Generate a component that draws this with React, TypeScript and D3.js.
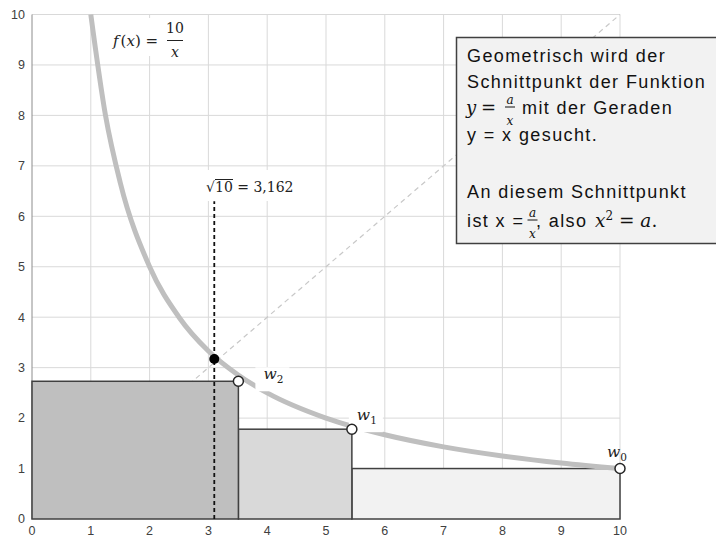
import React, { useEffect, useRef } from 'react';
import * as d3 from 'd3';

// axis ticks
const xTicks = [0, 1, 2, 3, 4, 5, 6, 7, 8, 9, 10];
const yTicks = [0, 1, 2, 3, 4, 5, 6, 7, 8, 9, 10];

// f(x) = 10/x
const curveX = [1, 1.25, 1.5, 2, 2.5, 3, 3.5, 4, 5, 6, 7, 8, 9, 10];
const curveY = [10, 8, 6.67, 5, 4, 3.33, 2.86, 2.5, 2, 1.67, 1.43, 1.25, 1.11, 1];

// iteration points w0, w1, w2
const wX = [10, 5.44, 3.51];
const wY = [1, 1.78, 2.73];
const wNames = ['0', '1', '2'];
const rectFills = ['#f2f2f2', '#d9d9d9', '#bfbfbf'];

// intersection point sqrt(10)
const rootX = 3.1;
const rootY = 3.17;
const rootLineTop = 6.3;

const FONT_SANS = '"Liberation Sans", Arial, sans-serif';
const FONT_MATH = '"DejaVu Serif", "Liberation Serif", serif';

function App() {
  const svgRef = useRef<SVGSVGElement>(null);
  const width = 716;
  const height = 537;

  useEffect(() => {
    if (!svgRef.current) return;
    const svg = d3.select(svgRef.current);
    svg.selectAll('*').remove();

    const x = d3.scaleLinear().domain([0, 10]).range([32, 620]);
    const y = d3.scaleLinear().domain([0, 10]).range([519, 14.5]);

    svg.append('rect').attr('width', width).attr('height', height).attr('fill', '#fff');

    // gridlines
    const grid = svg.append('g').attr('stroke', '#d9d9d9').attr('stroke-width', 1);
    grid.selectAll('.vg').data(xTicks.slice(1)).enter().append('line')
      .attr('x1', d => x(d)).attr('x2', d => x(d))
      .attr('y1', y(0)).attr('y2', y(10));
    grid.selectAll('.hg').data(yTicks.slice(1)).enter().append('line')
      .attr('x1', x(0)).attr('x2', x(10))
      .attr('y1', d => y(d)).attr('y2', d => y(d));

    // left axis line
    svg.append('line')
      .attr('x1', x(0)).attr('x2', x(0)).attr('y1', y(0)).attr('y2', y(10))
      .attr('stroke', '#8c8c8c').attr('stroke-width', 1);

    // tick labels
    svg.selectAll('.xl').data(xTicks).enter().append('text')
      .attr('x', d => x(d)).attr('y', 534.5)
      .attr('text-anchor', 'middle')
      .style('font-family', FONT_SANS).style('font-size', '12.5px').style('fill', '#404040')
      .text(d => d);
    svg.selectAll('.yl').data(yTicks).enter().append('text')
      .attr('x', 25).attr('y', d => y(d)).attr('dy', '0.35em')
      .attr('text-anchor', 'end')
      .style('font-family', FONT_SANS).style('font-size', '12.5px').style('fill', '#404040')
      .text(d => d);

    // y = x diagonal
    svg.append('line')
      .attr('x1', x(0)).attr('y1', y(0)).attr('x2', x(10)).attr('y2', y(10))
      .attr('stroke', '#c8c8c8').attr('stroke-width', 1.2).attr('stroke-dasharray', '5,4');

    // rectangles from the iteration points
    const rects = wX.map((wx, i) => ({
      x0: i < wX.length - 1 ? wX[i + 1] : 0,
      x1: wx,
      h: wY[i],
      fill: rectFills[i],
    }));
    svg.selectAll('.wr').data(rects).enter().append('rect')
      .attr('x', d => x(d.x0)).attr('y', d => y(d.h))
      .attr('width', d => x(d.x1) - x(d.x0)).attr('height', d => y(0) - y(d.h))
      .attr('fill', d => d.fill)
      .attr('stroke', '#404040').attr('stroke-width', 1.5);

    // curve
    const line = d3.line<number>()
      .x((d, i) => x(curveX[i]))
      .y(d => y(d))
      .curve(d3.curveMonotoneX);
    svg.append('path')
      .attr('d', line(curveY) || '')
      .attr('fill', 'none').attr('stroke', '#bfbfbf').attr('stroke-width', 5);

    // vertical dashed line at sqrt(10)
    svg.append('line')
      .attr('x1', x(rootX)).attr('x2', x(rootX)).attr('y1', y(0)).attr('y2', y(rootLineTop))
      .attr('stroke', '#111').attr('stroke-width', 1.8).attr('stroke-dasharray', '4,3');
    svg.append('circle')
      .attr('cx', x(rootX)).attr('cy', y(rootY)).attr('r', 5).attr('fill', '#000');

    // w labels (offset from their marker)
    const labelOffsets = [[-13, -12], [5, -9], [25, -2]];
    const labelBoxes = [false, true, true];
    const wLab = svg.selectAll('.wl').data(wX).enter().append('g')
      .attr('transform', (d, i) => `translate(${x(d) + labelOffsets[i][0]},${y(wY[i]) + labelOffsets[i][1]})`);
    wLab.filter((d, i) => labelBoxes[i]).append('rect')
      .attr('x', -8).attr('y', -12).attr('width', 34).attr('height', 24).attr('fill', '#fff');
    const wt = wLab.append('text')
      .style('font-family', FONT_MATH).style('font-size', '15.5px').style('fill', '#222');
    wt.append('tspan').style('font-style', 'italic').text('w');
    wt.append('tspan').attr('dy', 4).style('font-size', '10.5px').text((d, i) => wNames[i]);

    // markers (drawn over the label boxes)
    svg.selectAll('.wc').data(wX).enter().append('circle')
      .attr('cx', d => x(d)).attr('cy', (d, i) => y(wY[i])).attr('r', 5)
      .attr('fill', '#fff').attr('stroke', '#262626').attr('stroke-width', 1.5);

    // f(x) label
    const fl = svg.append('g').attr('transform', 'translate(113,46)');
    fl.append('rect').attr('x', -6).attr('y', -28).attr('width', 84).attr('height', 38).attr('fill', '#fff');
    const ft = fl.append('text').style('font-family', FONT_MATH).style('font-size', '15px').style('fill', '#222');
    ft.append('tspan').style('font-style', 'italic').text('f');
    ft.append('tspan').attr('dx', 2).text('(');
    ft.append('tspan').style('font-style', 'italic').text('x');
    ft.append('tspan').text(') =');
    fl.append('text').attr('x', 62).attr('y', -13).attr('text-anchor', 'middle')
      .style('font-family', FONT_MATH).style('font-size', '14px').style('fill', '#222').text('10');
    fl.append('line').attr('x1', 54).attr('x2', 70).attr('y1', -5.5).attr('y2', -5.5)
      .attr('stroke', '#222').attr('stroke-width', 1);
    fl.append('text').attr('x', 62).attr('y', 11).attr('text-anchor', 'middle')
      .style('font-family', FONT_MATH).style('font-size', '14px').style('font-style', 'italic')
      .style('fill', '#222').text('x');

    // sqrt label
    const sl = svg.append('g').attr('transform', 'translate(206,192)');
    sl.append('rect').attr('x', -6).attr('y', -22).attr('width', 98).attr('height', 31).attr('fill', '#fff');
    sl.append('text').style('font-family', FONT_MATH).style('font-size', '14px').style('fill', '#222')
      .text('\u221A');
    sl.append('line').attr('x1', 9).attr('x2', 27).attr('y1', -12.5).attr('y2', -12.5)
      .attr('stroke', '#222').attr('stroke-width', 1);
    sl.append('text').attr('x', 9).style('font-family', FONT_MATH).style('font-size', '14px').style('fill', '#222')
      .text('10 = 3,162');

    // text box
    const tb = svg.append('g');
    tb.append('rect').attr('x', 456.5).attr('y', 37.5).attr('width', 262).attr('height', 206)
      .attr('fill', '#f2f2f2').attr('stroke', '#404040').attr('stroke-width', 1.5);
    const sans = (t: string, tx: number, ty: number) =>
      tb.append('text').attr('x', tx).attr('y', ty)
        .style('font-family', FONT_SANS).style('font-size', '18px').style('letter-spacing', '1.4px')
        .style('fill', '#111').text(t);
    const math = (t: string, tx: number, ty: number, size = 17, anchor = 'start', italic = true) =>
      tb.append('text').attr('x', tx).attr('y', ty).attr('text-anchor', anchor)
        .style('font-family', FONT_MATH).style('font-size', `${size}px`)
        .style('font-style', italic ? 'italic' : 'normal')
        .style('fill', '#111').text(t);
    const frac = (cx: number, ty: number) => {
      math('a', cx, ty - 10.5, 12, 'middle');
      tb.append('line').attr('x1', cx - 5).attr('x2', cx + 5).attr('y1', ty - 7).attr('y2', ty - 7)
        .attr('stroke', '#111').attr('stroke-width', 1);
      math('x', cx, ty + 10.5, 12, 'middle');
    };

    sans('Geometrisch wird der', 467, 62);
    sans('Schnittpunkt der Funktion', 467, 87.5);
    math('y', 466, 114, 18);
    math('=', 481, 114, 18, 'start', false);
    frac(510, 114);
    sans('mit der Geraden', 522, 114);
    sans('y = x gesucht.', 467, 141);
    sans('An diesem Schnittpunkt', 467, 198);
    sans('ist x =', 467, 227);
    frac(532.5, 227);
    sans(', also', 536, 227);
    const lt = tb.append('text').attr('x', 595).attr('y', 227)
      .style('font-family', FONT_MATH).style('font-size', '18.5px').style('fill', '#111');
    lt.append('tspan').style('font-style', 'italic').text('x');
    lt.append('tspan').attr('dy', -7).style('font-size', '12px').text('2');
    lt.append('tspan').attr('dy', 7).text(' = ');
    lt.append('tspan').style('font-style', 'italic').text('a');
    lt.append('tspan').text('.');
  }, []);

  return (
    <div style={{ position: 'absolute', left: 0, top: 0 }}>
      <svg ref={svgRef} width={width} height={height} style={{ display: 'block' }}></svg>
    </div>
  );
}

export default App;
